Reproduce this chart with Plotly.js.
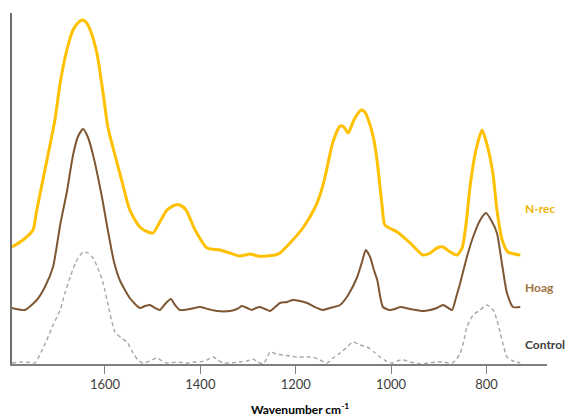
<!DOCTYPE html>
<html>
<head>
<meta charset="utf-8">
<script src="https://cdn.plot.ly/plotly-3.0.1.min.js"></script>
<style>html,body{margin:0;padding:0;background:#fff;}#chart{width:570px;height:419px;}</style>
</head>
<body>
<div id="chart"></div>
<script>
// Wavenumbers (cm-1) and relative absorbance (arbitrary units, stacked)
const nrecWave = [1795,1772,1751,1743,1726,1705,1694,1680,1667,1657,1648,1640,1631,1617,1604,1594,1583,1564,1548,1527,1510,1499,1485,1470,1453,1443,1430,1411,1386,1359,1338,1317,1306,1296,1279,1260,1243,1233,1212,1185,1160,1149,1139,1122,1107,1099,1090,1078,1063,1055,1044,1036,1029,1019,1013,987,960,933,918,904,891,876,862,851,843,834,822,809,797,786,778,767,755,729];
const nrecVals = [117,124,134,154,194,244,281,314,334,341,344,342,334,311,271,237,216,182,154,137,132,131,142,154,159,159,154,134,116,114,111,108,109,110,108,108,109,111,121,136,156,169,186,222,238,237,231,244,254,252,239,224,202,159,139,132,121,109,111,116,117,112,109,116,139,179,214,234,216,189,154,124,112,109];

const hoagWave = [1795,1768,1743,1726,1709,1694,1680,1667,1657,1646,1636,1625,1606,1596,1581,1569,1548,1527,1516,1506,1495,1485,1474,1462,1453,1443,1422,1401,1384,1365,1338,1323,1313,1302,1292,1283,1275,1264,1254,1233,1218,1206,1191,1176,1160,1143,1128,1107,1090,1071,1061,1053,1044,1036,1029,1017,1002,992,981,960,933,918,904,891,880,872,864,855,841,828,813,801,788,778,767,757,744,729];
const hoagVals = [56,54,64,77,97,139,172,209,227,235,227,209,166,139,102,84,66,56,58,59,56,54,60,65,59,54,55,57,55,53,53,55,58,56,54,56,57,55,53,61,62,64,63,61,57,54,56,59,69,87,102,114,107,94,84,57,54,55,57,55,53,54,56,59,56,54,66,81,107,127,144,151,142,131,99,71,57,57];

const ctrlWave = [1795,1778,1764,1747,1734,1722,1709,1694,1684,1673,1661,1646,1636,1625,1615,1604,1592,1579,1566,1554,1541,1531,1520,1506,1491,1480,1470,1449,1428,1415,1401,1386,1373,1363,1352,1338,1317,1302,1290,1279,1269,1260,1254,1241,1227,1212,1197,1180,1164,1149,1134,1122,1107,1092,1080,1065,1050,1036,1023,1011,998,987,975,960,939,922,904,891,880,872,864,855,847,841,828,813,799,786,778,771,763,757,744,729];
const ctrlVals = [1,2,2,1,12,24,39,54,71,87,102,112,111,106,96,81,56,32,26,22,11,4,1,3,6,3,1,2,1,2,2,4,7,4,1,1,2,3,5,2,0,6,12,10,9,8,7,7,7,4,1,6,11,17,22,19,17,12,7,3,1,3,4,2,0,1,2,2,1,1,4,11,24,37,49,54,59,54,44,31,16,7,3,1];

const xTicks = [1600,1400,1200,1000,800];
const seriesNames = ['N-rec','Hoag','Control'];
const labelY = [156, 77, 20];

const traces = [
  {x: ctrlWave, y: ctrlVals, name: seriesNames[2], type: 'scatter', mode: 'lines',
   line: {color: '#A6A6A6', width: 1.4, dash: '4px,3px', shape: 'spline', smoothing: 0.6}},
  {x: hoagWave, y: hoagVals, name: seriesNames[1], type: 'scatter', mode: 'lines',
   line: {color: '#7E5632', width: 2, shape: 'spline', smoothing: 0.6}},
  {x: nrecWave, y: nrecVals, name: seriesNames[0], type: 'scatter', mode: 'lines',
   line: {color: '#FFC000', width: 3, shape: 'spline', smoothing: 0.6}}
];

const labelColors = ['#F2B400', '#A0743F', '#404040'];
const annotations = seriesNames.map((n, i) => ({
  text: '<b>' + n + '</b>', xref: 'paper', yref: 'y', x: 0.955, y: labelY[i],
  xanchor: 'left', yanchor: 'middle', showarrow: false,
  font: {family: 'Lato, "Open Sans", sans-serif', size: 12, color: labelColors[i]}
}));
annotations.push({
  text: '<b>Wavenumber cm<sup>-1</sup></b>', xref: 'paper', yref: 'paper',
  x: 0.538, y: 0, xanchor: 'center', yanchor: 'top', yshift: -35, showarrow: false,
  font: {family: 'Lato, "Open Sans", sans-serif', size: 12, color: '#000000'}
});

const layout = {
  width: 570, height: 419,
  margin: {l: 12, r: 23, t: 13, b: 55},
  paper_bgcolor: '#ffffff', plot_bgcolor: '#ffffff',
  showlegend: false,
  xaxis: {
    range: [1795, 673], showgrid: false, zeroline: false,
    showline: true, linecolor: '#7F7F7F', linewidth: 1.5,
    ticks: 'outside', ticklen: 8, tickcolor: '#7F7F7F', tickwidth: 1,
    tickvals: xTicks, ticktext: xTicks.map(String),
    tickfont: {family: 'Lato, "Open Sans", sans-serif', size: 13, color: '#404040'}
  },
  yaxis: {
    range: [0, 351], showgrid: false, zeroline: false,
    showline: true, linecolor: '#6E6E6E', linewidth: 2,
    showticklabels: false, ticks: ''
  },
  annotations: annotations
};

Plotly.newPlot('chart', traces, layout, {displayModeBar: false, staticPlot: true});
</script>
</body>
</html>
